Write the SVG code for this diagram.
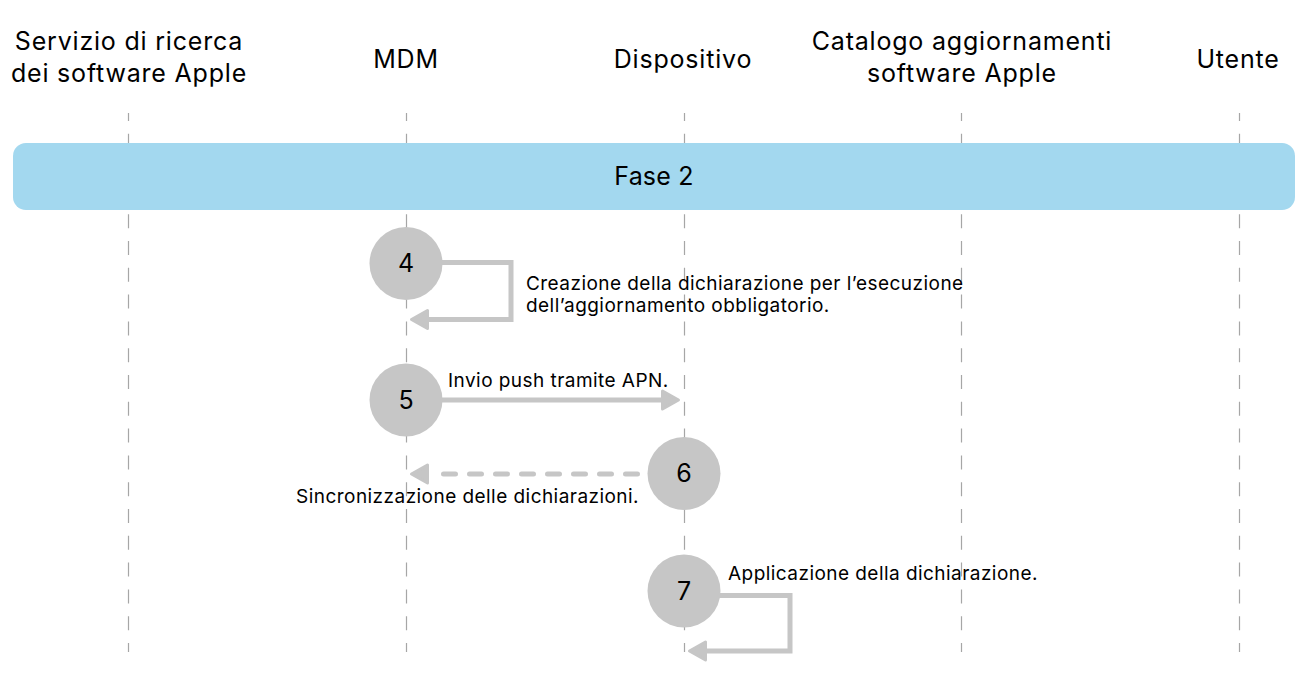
<svg xmlns="http://www.w3.org/2000/svg" width="1303" height="673" viewBox="0 0 1303 673">
<style>
text{font-family:Inter,"Liberation Sans",sans-serif;fill:#000}
.hd{font-size:25px;letter-spacing:0.8px;text-anchor:middle}
.lbl{font-size:19px;letter-spacing:0.45px}
.num{font-size:25px;text-anchor:middle}
.life{stroke:#a6a6a6;stroke-width:1.2;stroke-dasharray:14 12.8;stroke-dashoffset:6;fill:none}
.circ{fill:#c6c6c6}
.arr{stroke:#c6c6c6;stroke-width:5;fill:none;stroke-linejoin:miter}
.dash{stroke-dasharray:12 14;stroke-linecap:round}
.head{fill:#c6c6c6;stroke:#c6c6c6;stroke-width:3;stroke-linejoin:round;stroke-dasharray:none}
</style>
<defs>
<marker id="ah" markerUnits="userSpaceOnUse" viewBox="-9 -12 22 24" markerWidth="22" markerHeight="24" refX="0" refY="0" orient="auto" overflow="visible">
<path class="head" d="M-6,-9 L10,0 L-6,9 Z"/>
</marker>
</defs>
<g id="lifelines">
<line class="life" x1="128.5" y1="113" x2="128.5" y2="652"/>
<line class="life" x1="406.5" y1="113" x2="406.5" y2="652"/>
<line class="life" x1="684.5" y1="113" x2="684.5" y2="652"/>
<line class="life" x1="961.5" y1="113" x2="961.5" y2="652"/>
<line class="life" x1="1239.5" y1="113" x2="1239.5" y2="652"/>
</g>
<g id="headers">
<text class="hd" x="129" y="50">Servizio di ricerca</text>
<text class="hd" x="129" y="82">dei software Apple</text>
<text class="hd" x="406" y="68">MDM</text>
<text class="hd" x="683" y="68">Dispositivo</text>
<text class="hd" x="962" y="50">Catalogo aggiornamenti</text>
<text class="hd" x="962" y="82">software Apple</text>
<text class="hd" x="1238" y="68">Utente</text>
</g>
<g id="fase2">
<rect x="13" y="143" width="1282" height="67" rx="13" fill="#a3d8ef"/>
<text class="hd" x="654" y="185" style="letter-spacing:0.2px">Fase 2</text>
</g>
<g id="connectors">
<path class="arr" d="M440,262.5 H511 V319.5 H421.5" marker-end="url(#ah)"/>
<path class="arr" d="M440,400 H668.5" marker-end="url(#ah)"/>
<path class="arr dash" d="M637.5,474 H443.5"/>
<path class="arr" d="M428.5,474 H421.5" marker-end="url(#ah)"/>
<path class="arr" d="M718,595.5 H790 V651 H699.5" marker-end="url(#ah)"/>
</g>
<g id="step4">
<circle class="circ" cx="406" cy="263.5" r="36.5"/>
<text class="num" x="406" y="272">4</text>
<text class="lbl" x="526" y="290">Creazione della dichiarazione per l’esecuzione</text>
<text class="lbl" x="526" y="312">dell’aggiornamento obbligatorio.</text>
</g>
<g id="step5">
<circle class="circ" cx="406" cy="400" r="36.5"/>
<text class="num" x="406" y="408.5">5</text>
<text class="lbl" x="448" y="387">Invio push tramite APN.</text>
</g>
<g id="step6">
<circle class="circ" cx="684" cy="473.5" r="36.5"/>
<text class="num" x="684" y="482">6</text>
<text class="lbl" x="639" y="503" text-anchor="end">Sincronizzazione delle dichiarazioni.</text>
</g>
<g id="step7">
<circle class="circ" cx="684" cy="591" r="36.5"/>
<text class="num" x="684" y="599.5">7</text>
<text class="lbl" x="728" y="580">Applicazione della dichiarazione.</text>
</g>
</svg>
